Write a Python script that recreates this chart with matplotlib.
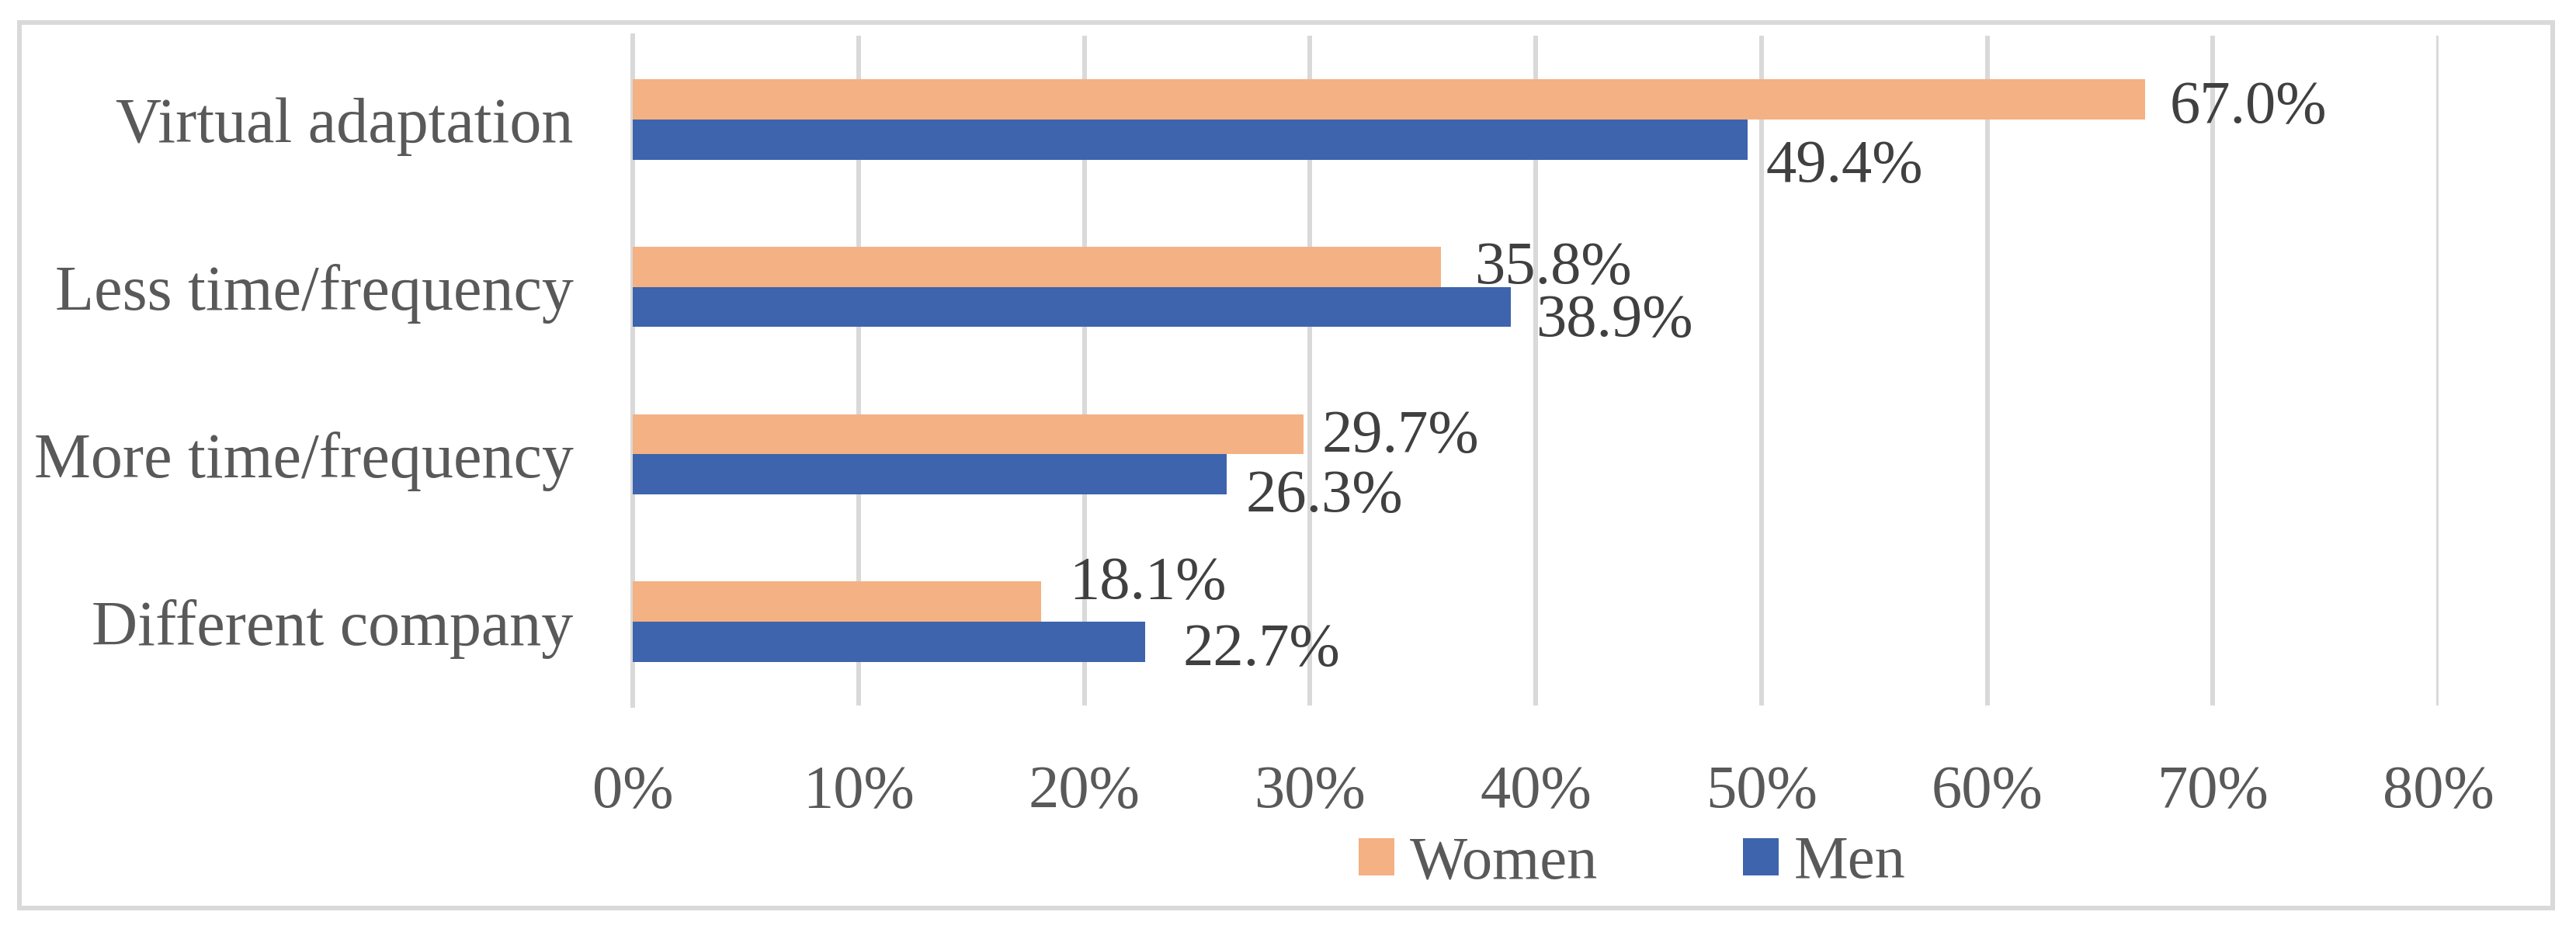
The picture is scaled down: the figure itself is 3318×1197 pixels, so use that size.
import matplotlib
matplotlib.use("Agg")
import matplotlib.pyplot as plt
from matplotlib.patches import Patch, Rectangle
import numpy as np

# ---- data ----
categories = ["Virtual adaptation", "Less time/frequency", "More time/frequency", "Different company"]
women = [67.0, 35.8, 29.7, 18.1]
men = [49.4, 38.9, 26.3, 22.7]
series_names = ["Women", "Men"]
xticks = [0, 10, 20, 30, 40, 50, 60, 70, 80]
xtick_labels = ["0%", "10%", "20%", "30%", "40%", "50%", "60%", "70%", "80%"]

# label nudges (pixels): horizontal gap after bar end, baseline below bar centre
women_dx_px = [32, 43, 24, 36]
women_base_px = [30, 21, 22, -4]
men_dx_px = [23, 32, 25, 48]
men_base_px = [54, 37, 48, 30]

# ---- style ----
DPI = 100
W, H = 3318, 1197
FS = 56.5
women_color = "#F4B183"
men_color = "#3D64AD"
grid_color = "#D9D9D9"
tick_color = "#595959"
label_color = "#404040"
plt.rcParams["font.family"] = ["Liberation Serif", "DejaVu Serif"]

fig = plt.figure(figsize=(W / DPI, H / DPI), dpi=DPI)
ax = fig.add_axes([815 / W, 1 - 909 / H, (3141 - 815) / W, (909 - 46) / H])

y = np.arange(len(categories))
bh = 0.24
ax.barh(y - bh / 2, women, height=bh, color=women_color, zorder=3, label=series_names[0])
ax.barh(y + bh / 2, men, height=bh, color=men_color, zorder=3, label=series_names[1])

ax.set_xlim(0, 80)
ax.set_ylim(len(categories) - 0.5, -0.5)
ax.set_xticks(xticks)
ax.set_xticklabels(xtick_labels)
ax.set_yticks(y)
ax.set_yticklabels(categories)
ax.tick_params(axis="both", length=0, labelsize=FS, colors=tick_color, pad=55)
ax.tick_params(axis="y", labelsize=59)
ax.grid(axis="x", color=grid_color, linewidth=4.3, zorder=0)
ax.grid(axis="y", visible=False)
for s in ["top", "right", "bottom"]:
    ax.spines[s].set_visible(False)
ax.spines["left"].set_color(grid_color)
ax.spines["left"].set_linewidth(4.3)
ax.spines["left"].set_zorder(1)

pt = 72 / DPI
for i, v in enumerate(women):
    ax.annotate(f"{v:.1f}%", xy=(v, y[i] - bh / 2), xytext=(women_dx_px[i] * pt, -women_base_px[i] * pt),
                textcoords="offset points", ha="left", va="baseline", fontsize=FS, color=label_color, zorder=4)
for i, v in enumerate(men):
    ax.annotate(f"{v:.1f}%", xy=(v, y[i] + bh / 2), xytext=(men_dx_px[i] * pt, -men_base_px[i] * pt),
                textcoords="offset points", ha="left", va="baseline", fontsize=FS, color=label_color, zorder=4)

handles = [Patch(facecolor=women_color, edgecolor="none"), Patch(facecolor=men_color, edgecolor="none")]
leg = fig.legend(handles, series_names, loc="upper left", bbox_to_anchor=(1750 / W, 1 - 1077 / H),
                 ncol=2, frameon=False, fontsize=FS, borderpad=0, borderaxespad=0,
                 handlelength=0.586, handleheight=0.573, handletextpad=0.255, columnspacing=2.38)
for t in leg.get_texts():
    t.set_color(tick_color)

# outer border
fig.patches.append(Rectangle((25 / W, 1 - 1170 / H), (3288 - 25) / W, (1170 - 29) / H,
                             transform=fig.transFigure, fill=False, edgecolor=grid_color, linewidth=4.3))

fig.savefig("out.png", dpi=DPI)
